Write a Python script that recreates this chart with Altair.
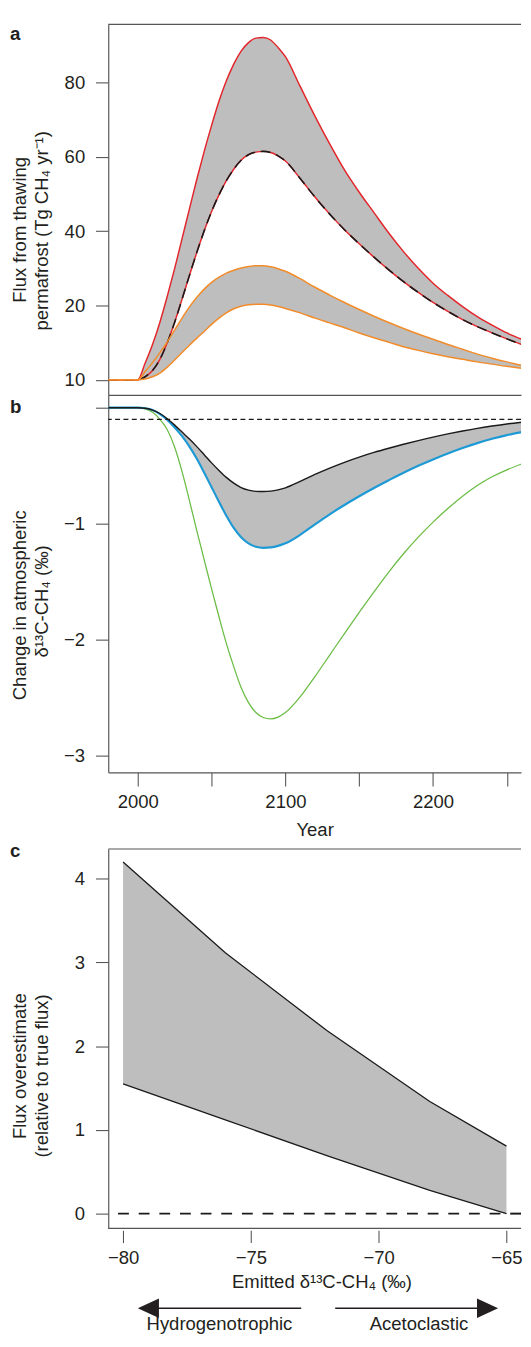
import altair as alt
import pandas as pd

# ---------------- data ----------------
years = [1980, 2000, 2005, 2010, 2015, 2020, 2025, 2030, 2035, 2040, 2045,
         2050, 2055, 2060, 2065, 2070, 2075, 2080, 2085, 2090, 2095, 2100,
         2110, 2120, 2130, 2140, 2150, 2160, 2170, 2180, 2190, 2200, 2210,
         2220, 2230, 2240, 2250, 2260]

# panel a: flux from thawing permafrost (axis tick labelled "10" sits at 0)
flux_red_upper = [0, 0, 4.5, 9.5, 15.5, 22.5, 30, 38, 46, 54, 61.5,
                  68.5, 75, 80.5, 85, 88.5, 90.8, 92, 92.2, 91.5, 89.5, 87,
                  79, 71, 63.5, 56.5, 50.5, 45, 39.5, 34.5, 30, 26, 22.7,
                  19.7, 17, 14.7, 12.6, 10.9]
flux_red_lower = [0, 0, 0.8, 2.5, 5.5, 10, 15.5, 21.7, 28.1, 34.3, 40.1,
                  45.3, 49.8, 53.6, 56.7, 59.1, 60.6, 61.3, 61.5, 61.2, 60.3, 58.9,
                  54.2, 49.2, 44.6, 40.4, 36.6, 33, 29.6, 26.4, 23.5, 20.8, 18.4,
                  16.2, 14.3, 12.6, 11, 9.5]
flux_orange_upper = [0, 0, 2.2, 4.6, 7.3, 10.2, 13.4, 16.6, 19.6, 22.2, 24.4,
                     26.2, 27.6, 28.7, 29.5, 30.1, 30.5, 30.7, 30.7, 30.4, 29.9, 29.2,
                     27.2, 24.9, 22.8, 20.8, 18.9, 17.1, 15.4, 13.8, 12.3, 10.9, 9.5,
                     8.2, 6.9, 5.8, 4.8, 3.9]
flux_orange_lower = [0, 0, 0.2, 0.8, 1.8, 3.4, 5.3, 7.3, 9.3, 11.2, 13,
                     14.9, 16.6, 18, 19.1, 19.8, 20.2, 20.3, 20.3, 20.1, 19.7, 19.2,
                     18, 16.6, 15.3, 14, 12.6, 11.3, 10.1, 8.9, 7.9, 7, 6.2,
                     5.5, 4.8, 4.2, 3.6, 3.1]

# panel b: change in atmospheric d13C-CH4 (permil)
d13c_black = [0, 0, -0.005, -0.02, -0.05, -0.095, -0.15, -0.21, -0.27, -0.335, -0.405,
              -0.475, -0.54, -0.6, -0.65, -0.688, -0.71, -0.72, -0.722, -0.718, -0.707, -0.69,
              -0.635, -0.575, -0.52, -0.47, -0.425, -0.385, -0.349, -0.315, -0.283, -0.253, -0.226,
              -0.201, -0.178, -0.158, -0.14, -0.125]
d13c_blue = [0, 0, -0.005, -0.02, -0.055, -0.105, -0.17, -0.245, -0.335, -0.44, -0.56,
             -0.685, -0.81, -0.93, -1.035, -1.115, -1.168, -1.198, -1.207, -1.203, -1.19, -1.168,
             -1.095, -1.005, -0.918, -0.838, -0.763, -0.692, -0.625, -0.56, -0.5, -0.445, -0.394,
             -0.347, -0.305, -0.268, -0.236, -0.21]
d13c_green = [0, 0, -0.01, -0.04, -0.1, -0.19, -0.34, -0.55, -0.8, -1.06, -1.31,
              -1.56, -1.8, -2.03, -2.23, -2.41, -2.54, -2.625, -2.668, -2.68, -2.664, -2.625,
              -2.49, -2.315, -2.13, -1.945, -1.762, -1.585, -1.415, -1.258, -1.115, -0.985, -0.868,
              -0.762, -0.67, -0.595, -0.535, -0.485]
detection_level = [-0.1]

# panel c: flux overestimate vs emitted d13C-CH4
emitted = [-80, -76, -72, -68, -65]
over_upper = [4.2, 3.115, 2.18, 1.34, 0.806]
over_lower = [1.55, 1.12, 0.69, 0.278, 0.0]

# ---------------- style ----------------
FONT = "Liberation Sans, Arial, Helvetica, sans-serif"
TXT = "#231f20"
FRAME = "#555555"
GRAY = "#bebebe"
RED = "#e3262b"
ORANGE = "#f28c2a"
BLUE = "#1d9ad6"
GREEN = "#6cbd45"
FS = 18.8

W = 420
HA, HB, HC = 377, 384, 386

one = pd.DataFrame({"k": [0]})

yaxis_style = dict(title=None, tickSize=13, labelPadding=11, grid=False,
                   domainColor=FRAME, domainWidth=1.2, tickColor=FRAME, tickWidth=1.1)


def label(txt, x, y, size=FS, bold=False, angle=None, align="left"):
    kw = dict(text=txt, font=FONT, fontSize=size, color=TXT, align=align,
              baseline="alphabetic", fontWeight="bold" if bold else "normal")
    if angle is not None:
        kw["angle"] = angle
    return alt.Chart(one).mark_text(**kw).encode(x=alt.value(x), y=alt.value(y))


# ---------------- panel a ----------------
ta = pd.DataFrame({"year": years, "ru": flux_red_upper, "rl": flux_red_lower,
                   "ou": flux_orange_upper, "ol": flux_orange_lower})
sx = alt.Scale(domain=[1980, 2259.6], nice=False, zero=False)
sya = alt.Scale(domain=[-4.1, 95.7], nice=False, zero=False)
ax_ya = alt.Axis(values=[0, 20, 40, 60, 80],
                 labelExpr="datum.value == 0 ? '10' : datum.label", **yaxis_style)
x_a = alt.X("year:Q", scale=sx,
            axis=alt.Axis(labels=False, ticks=False, title=None, domain=True,
                          domainColor=FRAME, domainWidth=1.2, grid=False))


def ya(f):
    return alt.Y(f"{f}:Q", scale=sya, axis=ax_ya)


base_a = alt.Chart(ta)
pa = alt.layer(
    base_a.mark_area(color=GRAY, interpolate="monotone", clip=True).encode(x=x_a, y=ya("ru"), y2="rl:Q"),
    base_a.mark_area(color=GRAY, interpolate="monotone", clip=True).encode(x=x_a, y=ya("ou"), y2="ol:Q"),
    base_a.mark_line(color=RED, strokeWidth=1.5, interpolate="monotone", clip=True).encode(x=x_a, y=ya("ru")),
    base_a.mark_line(color=RED, strokeWidth=1.5, interpolate="monotone", clip=True).encode(x=x_a, y=ya("rl")),
    base_a.mark_line(color="#1a1a1a", strokeWidth=1.6, strokeDash=[10, 6], interpolate="monotone",
                     clip=True).encode(x=x_a, y=ya("rl")),
    base_a.mark_line(color=ORANGE, strokeWidth=1.5, interpolate="monotone", clip=True).encode(x=x_a, y=ya("ou")),
    base_a.mark_line(color=ORANGE, strokeWidth=1.5, interpolate="monotone", clip=True).encode(x=x_a, y=ya("ol")),
    alt.Chart(pd.DataFrame({"top": [95.7]})).mark_rule(color=FRAME, strokeWidth=1.2).encode(y=ya("top")),
    label("a", -100, 15.4, size=19, bold=True),
    label("Flux from thawing", -84, 209, angle=270, align="center"),
    label("permafrost (Tg CH\u2084 yr\u207b\u00b9)", -61, 210, angle=270, align="center"),
).properties(width=W, height=HA)

# ---------------- panel b ----------------
tb = pd.DataFrame({"year": years, "bk": d13c_black, "bl": d13c_blue, "gr": d13c_green})
syb = alt.Scale(domain=[-3.14, 0.11], nice=False, zero=False)
ax_yb = alt.Axis(values=[0, -1, -2, -3],
                 labelExpr="datum.value == 0 ? '' : datum.label", **yaxis_style)
x_b = alt.X("year:Q", scale=sx,
            axis=alt.Axis(values=[2000, 2050, 2100, 2150, 2200, 2250], format="d",
                          labelExpr="datum.value % 100 == 0 ? datum.label : ''",
                          tickSize=14, labelPadding=7, labelFlush=False,
                          title="Year", titleX=210, titleY=64, titleBaseline="alphabetic",
                          domain=True, domainColor=FRAME, domainWidth=1.2,
                          tickColor=FRAME, tickWidth=1.1, grid=False))


def yb(f):
    return alt.Y(f"{f}:Q", scale=syb, axis=ax_yb)


base_b = alt.Chart(tb)
pb = alt.layer(
    base_b.mark_area(color=GRAY, interpolate="monotone", clip=True).encode(x=x_b, y=yb("bk"), y2="bl:Q"),
    base_b.mark_line(color=GREEN, strokeWidth=1.3, interpolate="monotone", clip=True).encode(x=x_b, y=yb("gr")),
    base_b.mark_line(color=BLUE, strokeWidth=2.2, interpolate="monotone", clip=True).encode(x=x_b, y=yb("bl")),
    base_b.mark_line(color="#1a1a1a", strokeWidth=1.4, interpolate="monotone", clip=True).encode(x=x_b, y=yb("bk")),
    alt.Chart(pd.DataFrame({"lvl": detection_level})).mark_rule(
        color="#1a1a1a", strokeWidth=1.2, strokeDash=[5, 3.5]).encode(y=yb("lvl")),
    label("b", -100, 18.6, size=19, bold=True),
    label("Change in atmospheric", -84, 214, angle=270, align="center"),
    label("\u03b4\u00b9\u00b3C-CH\u2084 (\u2030)", -61, 210, angle=270, align="center"),
).properties(width=W, height=HB)

# ---------------- panel c ----------------
tc = pd.DataFrame({"emitted": emitted, "up": over_upper, "lo": over_lower})
sxc = alt.Scale(domain=[-80.58, -64.43], nice=False, zero=False)
syc = alt.Scale(domain=[-0.176, 4.355], nice=False, zero=False)
ax_yc = alt.Axis(values=[0, 1, 2, 3, 4], **yaxis_style)
ax_xc = alt.Axis(values=[-80, -75, -70, -65], offset=2, domain=False, tickSize=12.5,
                 labelPadding=6.5, labelFlush=False, tickColor=FRAME, tickWidth=1.1,
                 title="Emitted \u03b4\u00b9\u00b3C-CH\u2084 (\u2030)", titleX=217, titleY=58,
                 titleBaseline="alphabetic", grid=False)


def xc(f):
    return alt.X(f"{f}:Q", scale=sxc, axis=ax_xc)


def yc(f):
    return alt.Y(f"{f}:Q", scale=syc, axis=ax_yc)


base_c = alt.Chart(tc)
arrows = pd.DataFrame({"start": [-79.0, -71.7], "end": [-73.03, -65.74]})
ARROW_Y = 467.3
pc = alt.layer(
    base_c.mark_area(color=GRAY, clip=True).encode(x=xc("emitted"), y=yc("up"), y2="lo:Q"),
    base_c.mark_line(color="#1a1a1a", strokeWidth=1.3, clip=True).encode(x=xc("emitted"), y=yc("up")),
    base_c.mark_line(color="#1a1a1a", strokeWidth=1.3, clip=True).encode(x=xc("emitted"), y=yc("lo")),
    alt.Chart(pd.DataFrame({"zero": [0]})).mark_rule(
        color="#1a1a1a", strokeWidth=2, strokeDash=[11, 10]).encode(y=yc("zero")),
    alt.Chart(pd.DataFrame({"top": [4.355]})).mark_rule(color=FRAME, strokeWidth=1.2).encode(y=yc("top")),
    alt.Chart(pd.DataFrame({"bottom": [-0.176]})).mark_rule(color=FRAME, strokeWidth=1.2).encode(y=yc("bottom")),
    alt.Chart(arrows).mark_rule(color=TXT, strokeWidth=1.5).encode(
        x=xc("start"), x2="end:Q", y=alt.value(ARROW_Y)),
    alt.Chart(pd.DataFrame({"tip": [-79.01]})).mark_point(
        shape="M-1,0L1,-0.93L1,0.93Z", filled=True, size=462, color=TXT, opacity=1).encode(
        x=xc("tip"), y=alt.value(ARROW_Y)),
    alt.Chart(pd.DataFrame({"tip": [-65.74]})).mark_point(
        shape="M1,0L-1,-0.93L-1,0.93Z", filled=True, size=462, color=TXT, opacity=1).encode(
        x=xc("tip"), y=alt.value(ARROW_Y)),
    alt.Chart(pd.DataFrame({"pos": [-76.23], "name": ["Hydrogenotrophic"]})).mark_text(
        font=FONT, fontSize=FS, color=TXT, align="center", baseline="alphabetic").encode(
        x=xc("pos"), y=alt.value(489.3), text="name:N"),
    alt.Chart(pd.DataFrame({"pos": [-68.42], "name": ["Acetoclastic"]})).mark_text(
        font=FONT, fontSize=FS, color=TXT, align="center", baseline="alphabetic").encode(
        x=xc("pos"), y=alt.value(489.3), text="name:N"),
    label("c", -100, 8.3, size=19, bold=True),
    label("Flux overestimate", -84, 221, angle=270, align="center"),
    label("(relative to true flux)", -61, 231, angle=270, align="center"),
).properties(width=W, height=HC)

chart = alt.vconcat(
    alt.vconcat(pa, pb, spacing=0),
    pc,
    spacing=3,
).properties(
    padding={"left": 2, "top": 4, "right": 0, "bottom": 0}
).configure_view(
    strokeWidth=0
).configure_axis(
    labelFont=FONT, labelFontSize=FS, labelColor=TXT,
    titleFont=FONT, titleFontSize=FS, titleColor=TXT, titleFontWeight="normal",
    grid=False
)

chart.save("out.html", embed_options={"renderer": "svg", "actions": False})
